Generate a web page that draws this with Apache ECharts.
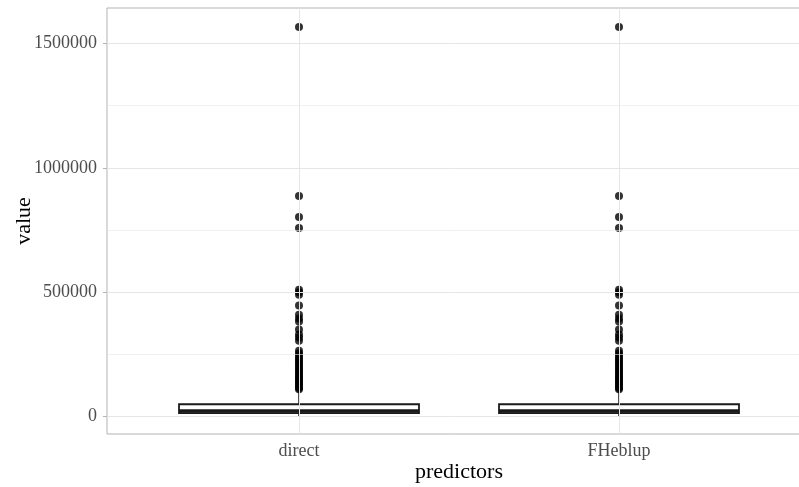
<!DOCTYPE html>
<html>
<head>
<meta charset="utf-8">
<script src="https://cdn.jsdelivr.net/npm/echarts@6/dist/echarts.min.js"></script>
<style>html,body{margin:0;padding:0;background:#fff}#c{width:799px;height:487px}</style>
</head>
<body>
<div id="c"></div>
<script>
// categories and their x positions
var categories = ['direct', 'FHeblup'];
var categoryPositions = [1, 2];
// box statistics: [lower whisker, Q1, median, Q3, upper whisker]
var directStats = [1000, 14000, 23000, 50000, 104000];
var fheblupStats = [1000, 14000, 23000, 50000, 104000];
// outliers
var directOutliers = [1566000, 887000, 802000, 758000, 510000, 500000, 490000, 447000, 410000, 395000, 382000, 350000, 330000, 318000, 305000, 265000, 255000, 246000, 238000, 230000, 222000, 215000, 208000, 200000, 192000, 185000, 178000, 170000, 163000, 156000, 150000, 144000, 138000, 132000, 126000, 120000, 115000, 110000];
var fheblupOutliers = [1566000, 887000, 802000, 758000, 510000, 500000, 490000, 447000, 410000, 395000, 382000, 350000, 330000, 318000, 305000, 265000, 255000, 246000, 238000, 230000, 222000, 215000, 208000, 200000, 192000, 185000, 178000, 170000, 163000, 156000, 150000, 144000, 138000, 132000, 126000, 120000, 115000, 110000];
// ticks and grid
var yTicks = [0, 500000, 1000000, 1500000];
var yMinorGrid = [250000, 750000, 1250000];
var yMin = -69500, yMax = 1642000;
var xMin = 0.4, xMax = 2.6;

var boxData = [
  [categoryPositions[0]].concat(directStats),
  [categoryPositions[1]].concat(fheblupStats)
];
var outlierData = [];
directOutliers.forEach(function (v) { outlierData.push([categoryPositions[0], v]); });
fheblupOutliers.forEach(function (v) { outlierData.push([categoryPositions[1], v]); });

var FONT = 'Liberation Serif';
var boxHalf = 0.375;

function renderBox(params, api) {
  var x = api.value(0);
  var lw = api.value(1), q1 = api.value(2), med = api.value(3), q3 = api.value(4), uw = api.value(5);
  var pL = api.coord([x - boxHalf, q3]);
  var pR = api.coord([x + boxHalf, q1]);
  var c = api.coord([x, med]);
  var pUw = api.coord([x, uw]);
  var pLw = api.coord([x, lw]);
  var pQ3 = api.coord([x, q3]);
  var pQ1 = api.coord([x, q1]);
  return {
    type: 'group',
    children: [
      { type: 'line', shape: { x1: pQ3[0], y1: pQ3[1], x2: pUw[0], y2: pUw[1] }, style: { stroke: '#1a1a1a', lineWidth: 1.5 } },
      { type: 'line', shape: { x1: pQ1[0], y1: pQ1[1], x2: pLw[0], y2: pLw[1] }, style: { stroke: '#1a1a1a', lineWidth: 1.5 } },
      { type: 'rect', shape: { x: pL[0], y: pL[1], width: pR[0] - pL[0], height: pR[1] - pL[1] }, style: { fill: '#fff', stroke: '#1a1a1a', lineWidth: 1.8 } },
      { type: 'line', shape: { x1: pL[0], y1: c[1], x2: pR[0], y2: c[1] }, style: { stroke: '#1a1a1a', lineWidth: 3.5 } }
    ]
  };
}

var gridLines = [];
yTicks.forEach(function (v) { gridLines.push({ yAxis: v, lineStyle: { width: 1 } }); });
yMinorGrid.forEach(function (v) { gridLines.push({ yAxis: v, lineStyle: { width: 0.6 } }); });
categoryPositions.forEach(function (v) { gridLines.push({ xAxis: v, lineStyle: { width: 1 } }); });

var chart = echarts.init(document.getElementById('c'), null, { renderer: 'canvas' });
chart.setOption({
  animation: false,
  backgroundColor: '#fff',
  grid: { left: 107, top: 8, right: -12, bottom: 53, show: true, borderColor: '#b3b3b3', borderWidth: 1, backgroundColor: '#fff', containLabel: false, outerBoundsMode: 'none' },
  xAxis: {
    type: 'value', min: xMin, max: xMax,
    name: 'predictors', nameLocation: 'middle', nameGap: 27, nameMoveOverlap: false,
    nameTextStyle: { fontFamily: FONT, fontSize: 22, color: '#000' },
    axisLine: { show: false },
    axisTick: { show: true, length: 4, lineStyle: { color: '#b3b3b3' }, customValues: categoryPositions },
    axisLabel: { fontFamily: FONT, fontSize: 18, color: '#4d4d4d', margin: 8, customValues: categoryPositions,
      formatter: function (v) { var i = categoryPositions.indexOf(v); return i >= 0 ? categories[i] : ''; } },
    splitLine: { show: false }
  },
  yAxis: {
    type: 'value', min: yMin, max: yMax,
    name: 'value', nameLocation: 'middle', nameGap: 72, nameMoveOverlap: false,
    nameTextStyle: { fontFamily: FONT, fontSize: 22, color: '#000' },
    axisLine: { show: false },
    axisTick: { show: true, length: 4, lineStyle: { color: '#b3b3b3' }, customValues: yTicks },
    axisLabel: { fontFamily: FONT, fontSize: 18, color: '#4d4d4d', margin: 10, customValues: yTicks,
      formatter: function (v) { return String(Math.round(v)); } },
    splitLine: { show: false }
  },
  series: [
    {
      type: 'line', data: [], silent: true, z: 0,
      markLine: { silent: true, symbol: 'none', label: { show: false }, animation: false,
        lineStyle: { color: '#e6e6e6', type: 'solid' }, data: gridLines }
    },
    {
      type: 'custom', z: 2, renderItem: renderBox, data: boxData,
      encode: { x: 0, y: [1, 2, 3, 4, 5] }
    },
    {
      type: 'scatter', z: 3, symbol: 'circle', symbolSize: 8,
      itemStyle: { color: '#000' }, data: outlierData
    }
  ]
});
</script>
</body>
</html>
